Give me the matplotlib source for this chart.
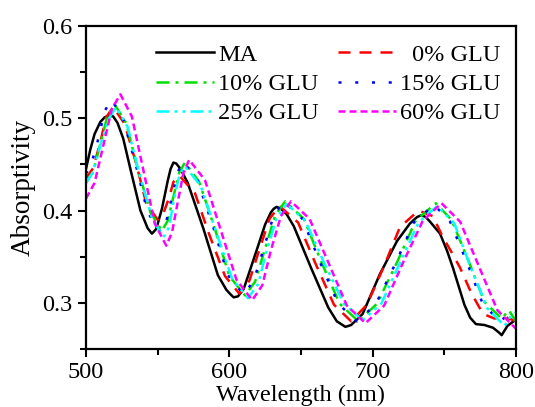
import matplotlib
matplotlib.use("Agg")
import matplotlib.pyplot as plt
from matplotlib.ticker import MultipleLocator, FormatStrFormatter

plt.rcParams['font.family'] = ['Liberation Serif', 'DejaVu Serif']
plt.rcParams['font.size'] = 17.5

# MA
wl_ma = [500, 503, 506, 510, 513, 516, 519, 522, 526, 531, 538, 543, 546, 549, 553, 557, 559, 561, 563,
         566, 571, 582, 592, 598, 601, 603, 606, 610, 618, 625, 629, 631, 633, 636, 640, 645, 657, 669,
         675, 681, 685, 693, 705, 717, 726, 731, 734, 737, 740, 747, 752, 756, 760, 764, 768, 772, 778,
         784, 788, 790, 794, 800]
ab_ma = [0.445, 0.466, 0.483, 0.496, 0.501, 0.503, 0.502, 0.495, 0.478, 0.445, 0.400, 0.381, 0.375,
         0.380, 0.402, 0.432, 0.445, 0.452, 0.451, 0.445, 0.430, 0.380, 0.330, 0.314, 0.309, 0.306,
         0.307, 0.315, 0.352, 0.385, 0.398, 0.402, 0.404, 0.402, 0.396, 0.383, 0.338, 0.295, 0.280,
         0.274, 0.276, 0.288, 0.331, 0.367, 0.386, 0.393, 0.395, 0.393, 0.388, 0.375, 0.356, 0.338,
         0.318, 0.298, 0.284, 0.277, 0.276, 0.273, 0.268, 0.265, 0.275, 0.282]

# 0% GLU
wl_0 = [500, 505, 510, 514, 519, 527, 535, 542, 550, 554, 558, 561, 565, 576, 586, 597, 607, 614, 621,
        628, 635, 648, 660, 673, 685, 696, 708, 719, 732, 742, 749, 755, 761, 769, 777, 785, 792, 800]
ab_0 = [0.435, 0.446, 0.474, 0.501, 0.512, 0.494, 0.451, 0.408, 0.390, 0.397, 0.414, 0.431, 0.438,
        0.419, 0.374, 0.329, 0.310, 0.324, 0.358, 0.391, 0.405, 0.387, 0.343, 0.298, 0.280, 0.298,
        0.340, 0.382, 0.400, 0.394, 0.371, 0.355, 0.338, 0.310, 0.288, 0.283, 0.285, 0.280]

# 10% GLU
wl_10 = [500, 505, 510, 515, 520, 528, 536, 545, 553, 557, 561, 565, 569, 579, 590, 600, 611, 618, 625,
         632, 639, 652, 664, 677, 690, 703, 717, 730, 744, 755, 767, 778, 790, 795, 800]
ab_10 = [0.430, 0.442, 0.472, 0.503, 0.515, 0.495, 0.446, 0.398, 0.378, 0.389, 0.415, 0.441, 0.452,
         0.431, 0.380, 0.329, 0.308, 0.323, 0.359, 0.395, 0.410, 0.391, 0.345, 0.299, 0.280, 0.299,
         0.344, 0.389, 0.408, 0.390, 0.345, 0.301, 0.283, 0.292, 0.280]

# 15% GLU
wl_15 = [500, 504, 509, 513, 518, 526, 535, 543, 552, 556, 560, 564, 568, 578, 589, 599, 610, 617, 624,
         631, 638, 651, 663, 676, 689, 702, 716, 729, 743, 754, 766, 777, 789, 795, 800]
ab_15 = [0.440, 0.452, 0.480, 0.508, 0.520, 0.499, 0.448, 0.398, 0.377, 0.388, 0.415, 0.442, 0.453,
         0.432, 0.381, 0.330, 0.309, 0.324, 0.359, 0.395, 0.410, 0.391, 0.345, 0.299, 0.280, 0.298,
         0.343, 0.388, 0.406, 0.388, 0.343, 0.298, 0.280, 0.288, 0.285]

# 25% GLU
wl_25 = [500, 505, 510, 516, 521, 529, 537, 546, 554, 558, 561, 565, 569, 580, 591, 602, 613, 620, 626,
         633, 640, 653, 666, 680, 693, 706, 719, 732, 745, 757, 768, 780, 792, 796, 800]
ab_25 = [0.430, 0.442, 0.471, 0.500, 0.512, 0.491, 0.441, 0.392, 0.371, 0.382, 0.409, 0.437, 0.448,
         0.427, 0.376, 0.326, 0.305, 0.320, 0.356, 0.392, 0.407, 0.389, 0.344, 0.299, 0.281, 0.299,
         0.343, 0.387, 0.405, 0.386, 0.340, 0.294, 0.275, 0.285, 0.290]

# 60% GLU
wl_60 = [500, 506, 512, 518, 524, 532, 540, 548, 556, 560, 564, 568, 572, 583, 594, 605, 616, 623, 629,
         636, 643, 656, 669, 682, 695, 708, 721, 735, 748, 761, 774, 787, 800]
ab_60 = [0.413, 0.430, 0.470, 0.510, 0.526, 0.502, 0.444, 0.386, 0.362, 0.376, 0.409, 0.441, 0.455,
         0.433, 0.379, 0.325, 0.303, 0.319, 0.357, 0.394, 0.410, 0.391, 0.344, 0.297, 0.278, 0.297,
         0.343, 0.389, 0.408, 0.388, 0.340, 0.292, 0.272]

fig = plt.figure(figsize=(5.35, 4.07), dpi=100)
ax = fig.add_axes([0.1607, 0.1425, 0.8038, 0.7936])

lw = 1.8
l_ma, = ax.plot(wl_ma, ab_ma, color='black', lw=lw, label='MA')
l_0, = ax.plot(wl_0, ab_0, color='red', lw=lw, dashes=(4.8, 3.6), label='\u20070% GLU')
l_10, = ax.plot(wl_10, ab_10, color='#00e000', lw=lw, dashes=(5.2, 2.4, 1.2, 2.4), label='10% GLU')
l_15, = ax.plot(wl_15, ab_15, color='blue', lw=lw, dashes=(1.2, 5.5), label='15% GLU')
l_25, = ax.plot(wl_25, ab_25, color='cyan', lw=lw, dashes=(5.2, 2, 1.2, 2, 1.2, 2), label='25% GLU')
l_60, = ax.plot(wl_60, ab_60, color='magenta', lw=lw, dashes=(2.8, 1.6), label='60% GLU')
for ln in ax.get_lines():
    ln.set_solid_joinstyle('round')

ax.set_xlim(500, 800)
ax.set_ylim(0.25, 0.6)
ax.xaxis.set_major_locator(MultipleLocator(100))
ax.xaxis.set_minor_locator(MultipleLocator(50))
ax.yaxis.set_major_locator(MultipleLocator(0.1))
ax.yaxis.set_minor_locator(MultipleLocator(0.05))
ax.yaxis.set_major_formatter(FormatStrFormatter('%.1f'))
ax.tick_params(which='major', direction='out', length=6, width=1.5, top=False, right=False)
ax.tick_params(which='minor', direction='out', length=4, width=1.5, top=False, right=False)
for s in ax.spines.values():
    s.set_linewidth(1.6)

ax.set_xlabel('Wavelength (nm)', labelpad=1.5)
ax.set_ylabel('Absorptivity', fontsize=19.5, labelpad=5)

ax.legend([l_ma, l_10, l_25, l_0, l_15, l_60],
          [l.get_label() for l in [l_ma, l_10, l_25, l_0, l_15, l_60]],
          ncol=2, loc='upper right', bbox_to_anchor=(0.965, 0.945), frameon=False,
          handlelength=2.35, handletextpad=0.2, columnspacing=0.8, labelspacing=0.3,
          borderpad=0, borderaxespad=0)

fig.savefig('out.png', dpi=100)
